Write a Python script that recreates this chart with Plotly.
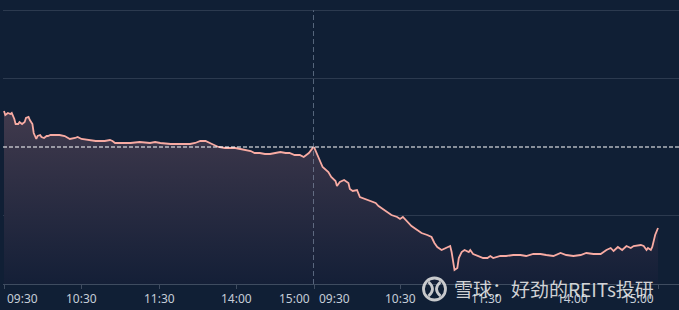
import plotly.graph_objects as go

# ---------------- data (trading minutes since 09:30, % change vs reference) -------------
DAY1_MIN = [0, 1, 3, 5, 6, 8, 9, 11, 12, 14, 16, 17, 19, 20, 22, 23, 25, 26, 28, 29, 31,
            33, 34, 36, 40, 43, 47, 51, 55, 57, 60, 64, 67, 71, 74, 78, 82, 84, 86, 90,
            94, 98, 105, 113, 117, 121, 129, 136, 144, 148, 152, 156, 158, 161, 166, 171,
            175, 179, 183, 187, 191, 194, 198, 202, 206, 210, 214, 218, 221, 225, 229,
            232, 234, 236, 239, 240]
DAY1_VAL = [0.36, 0.32, 0.34, 0.33, 0.34, 0.28, 0.23, 0.23, 0.25, 0.23, 0.25, 0.29, 0.30,
            0.27, 0.23, 0.14, 0.08, 0.11, 0.12, 0.10, 0.09, 0.11, 0.11, 0.12, 0.12, 0.12,
            0.11, 0.08, 0.09, 0.10, 0.08, 0.07, 0.07, 0.06, 0.06, 0.06, 0.07, 0.06, 0.04,
            0.04, 0.04, 0.04, 0.05, 0.04, 0.05, 0.04, 0.03, 0.03, 0.03, 0.04, 0.06, 0.06,
            0.05, 0.03, 0.00, -0.01, -0.01, -0.01, -0.02, -0.03, -0.04, -0.06, -0.06,
            -0.07, -0.07, -0.06, -0.05, -0.06, -0.06, -0.08, -0.08, -0.10, -0.08, -0.06,
            -0.01, 0.00]

DAY2_MIN = [0, 3, 6, 10, 12, 15, 16, 18, 21, 24, 25, 27, 30, 32, 36, 39, 43, 45, 48, 51,
            54, 58, 60, 62, 65, 68, 72, 75, 79, 82, 84, 86, 89, 93, 95, 96, 97, 98, 100,
            101, 103, 105, 108, 109, 111, 115, 118, 121, 123, 125, 130, 134, 139, 144,
            148, 153, 158, 162, 167, 172, 176, 181, 186, 190, 195, 200, 204, 207, 209,
            212, 215, 218, 221, 223, 228, 230, 232, 233, 235, 236, 238, 240]
DAY2_VAL = [0.00, -0.10, -0.20, -0.25, -0.30, -0.34, -0.39, -0.35, -0.33, -0.36, -0.42,
            -0.44, -0.43, -0.50, -0.52, -0.54, -0.56, -0.59, -0.62, -0.65, -0.68, -0.70,
            -0.72, -0.70, -0.75, -0.79, -0.83, -0.86, -0.88, -0.90, -0.96, -1.00, -1.03,
            -1.00, -0.99, -1.05, -1.15, -1.23, -1.21, -1.11, -1.05, -1.03, -1.05, -1.03,
            -1.07, -1.09, -1.11, -1.11, -1.09, -1.11, -1.09, -1.09, -1.08, -1.08, -1.09,
            -1.07, -1.07, -1.08, -1.09, -1.06, -1.08, -1.09, -1.08, -1.06, -1.07, -1.07,
            -1.03, -1.01, -1.04, -1.00, -1.03, -0.99, -1.01, -0.99, -0.98, -0.99, -1.03,
            -1.01, -1.03, -1.00, -0.88, -0.81]

TICK_MIN = [0, 60, 120, 180, 240]
TICK_TEXT = ["09:30", "10:30", "11:30", "14:00", "15:00"]
WATERMARK = "雪球：好劲的REITs投研"

# ---------------- style ----------------
BG = "#101f35"
GRID_COLOR = "#2c3a4f"
AXIS_COLOR = "#3f4c60"
LINE_COLOR = "#f8aba3"
TICK_FONT = dict(family="Noto Sans, Open Sans, sans-serif", size=12, color="#c6cdd8")
Y_BOTTOM = -1.37
Y_TOP = 1.38
GRID_VALS = [-1.365, -0.6825, 0.6825, 1.365]
SPLIT = 0.4601
FILL_SCALE = [[0, "#141f37"], [1, "#413a4d"]]

fig = go.Figure()

for xa, mins, vals in (("x", DAY1_MIN, DAY1_VAL), ("x2", DAY2_MIN, DAY2_VAL)):
    fig.add_trace(go.Scatter(
        x=[mins[0], mins[-1]], y=[Y_BOTTOM, Y_BOTTOM], xaxis=xa, yaxis="y",
        mode="lines", line=dict(width=0, color=BG), hoverinfo="skip", showlegend=False))
    fig.add_trace(go.Scatter(
        x=mins, y=vals, xaxis=xa, yaxis="y", mode="lines",
        line=dict(color=LINE_COLOR, width=1.8),
        fill="tonexty",
        fillgradient=dict(type="vertical", colorscale=FILL_SCALE, start=Y_BOTTOM, stop=0.36),
        showlegend=False, hoverinfo="skip"))

axis_common = dict(showgrid=False, zeroline=False, showline=True, linecolor=AXIS_COLOR,
                   linewidth=1, ticks="outside", ticklen=4, tickcolor=AXIS_COLOR,
                   tickvals=TICK_MIN, showticklabels=False, fixedrange=True)

fig.update_layout(
    width=679, height=310,
    margin=dict(l=3, r=0, t=9, b=26),
    paper_bgcolor=BG, plot_bgcolor=BG,
    showlegend=False,
    xaxis=dict(domain=[0, SPLIT], range=[-0.774, 240], anchor="y", **axis_common),
    xaxis2=dict(domain=[SPLIT, 1], range=[0, 254.65], anchor="y", **axis_common),
    yaxis=dict(range=[Y_BOTTOM, Y_TOP], tickvals=GRID_VALS, showticklabels=False,
               showgrid=True, gridcolor=GRID_COLOR, gridwidth=1, zeroline=False,
               showline=False, fixedrange=True),
)

# reference line and day separator
fig.add_shape(type="line", xref="paper", yref="y", x0=0, x1=1, y0=0, y1=0,
              line=dict(color="#ffffff", width=1.2, dash="4px,2px"))
fig.add_shape(type="line", xref="x", yref="paper", x0=240, x1=240, y0=0, y1=0.995,
              line=dict(color="#9fb0c8", width=1, dash="5px,3px"))

# tick labels
annotations = []
for xr, first_shift, last_shift in (("x", 1, -2), ("x2", 3, -2)):
    for k, (m, t) in enumerate(zip(TICK_MIN, TICK_TEXT)):
        if k == 0:
            anchor, shift = "left", first_shift
        elif k == len(TICK_MIN) - 1:
            anchor, shift = "right", last_shift
        else:
            anchor, shift = "center", 0
        annotations.append(dict(x=m, xref=xr, y=0, yref="paper", text=t, showarrow=False,
                                xanchor=anchor, yanchor="top", xshift=shift, yshift=-4,
                                font=TICK_FONT))

# watermark
annotations.append(dict(x=0.6642, xref="paper", y=0, yref="paper", text=WATERMARK,
                        showarrow=False, xanchor="left", yanchor="middle", yshift=-4,
                        font=dict(family="Noto Sans CJK SC, sans-serif", size=19,
                                  color="rgba(236,236,236,0.88)")))
fig.update_layout(annotations=annotations)

fig.add_shape(type="circle", xref="paper", yref="paper", xsizemode="pixel", ysizemode="pixel",
              xanchor=0.6383, yanchor=-0.0182, x0=-11, x1=11, y0=-11, y1=11,
              line=dict(color="rgba(225,225,225,0.88)", width=2.8))
fig.add_shape(type="path", xref="paper", yref="paper", xsizemode="pixel", ysizemode="pixel",
              xanchor=0.6383, yanchor=-0.0182,
              path="M -6,7 Q 2,0 -6,-7 M 6,7 Q -2,0 6,-7",
              line=dict(color="rgba(225,225,225,0.88)", width=2.8))

fig.write_html("out.html", config={"displayModeBar": False})
